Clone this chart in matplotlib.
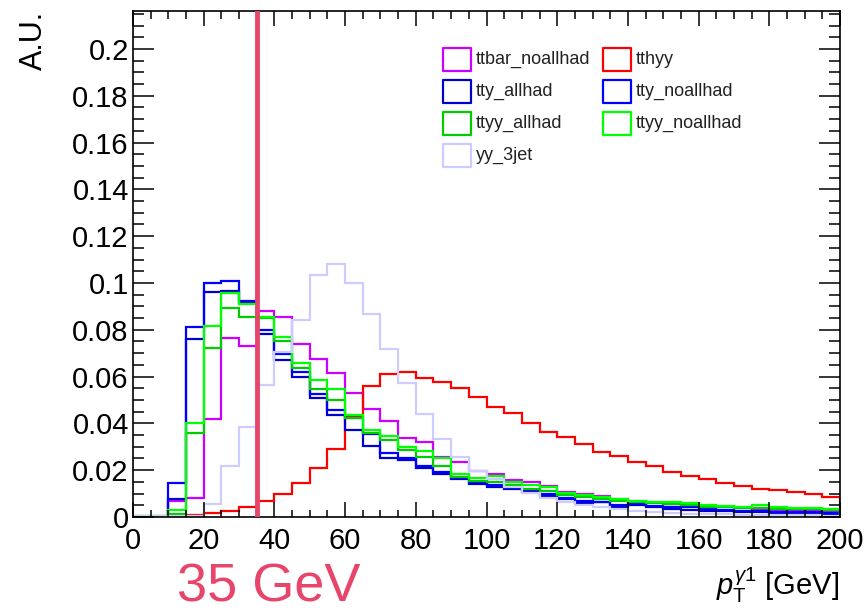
import numpy as np
import matplotlib
matplotlib.use("Agg")
import matplotlib.pyplot as plt
from matplotlib.patches import Rectangle
from matplotlib.ticker import MultipleLocator, FuncFormatter

plt.rcParams["font.family"] = ["Liberation Sans", "DejaVu Sans"]
plt.rcParams["mathtext.fontset"] = "custom"
plt.rcParams["mathtext.rm"] = "Liberation Sans"
plt.rcParams["mathtext.it"] = "Liberation Sans:italic"

# pT of leading photon, 5 GeV bins from 0 to 200
bin_edges = np.arange(0, 205, 5)

ttbar_noallhad = [0, 0, 0.007, 0.008, 0.042, 0.0766, 0.073, 0.088, 0.0856, 0.0738,
                  0.0674, 0.0617, 0.0531, 0.046, 0.0412, 0.0336, 0.0319, 0.0258, 0.0236, 0.0198,
                  0.0182, 0.0158, 0.0148, 0.0134, 0.0108, 0.0098, 0.009, 0.0075, 0.007, 0.0063,
                  0.0056, 0.0051, 0.0046, 0.0042, 0.0038, 0.0034, 0.0031, 0.0028, 0.0025, 0.0023]
tthyy = [0, 0, 0.001, 0.001, 0.0016, 0.0027, 0.0044, 0.007, 0.010, 0.0144,
         0.0208, 0.029, 0.0429, 0.056, 0.061, 0.062, 0.0593, 0.0578, 0.0553, 0.0514,
         0.0472, 0.0443, 0.040, 0.0362, 0.034, 0.0312, 0.0279, 0.0262, 0.0236, 0.0218,
         0.0194, 0.0177, 0.0162, 0.0147, 0.0134, 0.0121, 0.0115, 0.0105, 0.0097, 0.0085]
tty_allhad = [0, 0, 0.0075, 0.076, 0.0963, 0.0966, 0.0913, 0.078, 0.0671, 0.060,
              0.051, 0.0436, 0.0372, 0.0303, 0.0251, 0.0244, 0.0208, 0.0182, 0.0161, 0.0141,
              0.0127, 0.012, 0.0105, 0.009, 0.0075, 0.0058, 0.0063, 0.0044, 0.0051, 0.0044,
              0.0033, 0.003, 0.0027, 0.0026, 0.0023, 0.002, 0.0019, 0.0017, 0.0016, 0.0014]
tty_noallhad = [0, 0, 0.0147, 0.081, 0.0999, 0.1008, 0.0923, 0.080, 0.0695, 0.0621,
                0.0524, 0.0457, 0.0422, 0.0355, 0.0272, 0.0251, 0.0218, 0.0194, 0.0168, 0.0148,
                0.0137, 0.0127, 0.0115, 0.0097, 0.008, 0.007, 0.0066, 0.0051, 0.0056, 0.0048,
                0.0041, 0.0041, 0.0033, 0.003, 0.0027, 0.0026, 0.0023, 0.0021, 0.002, 0.0019]
ttyy_allhad = [0.0003, 0.0003, 0.0013, 0.036, 0.072, 0.0892, 0.0856, 0.0849, 0.0754, 0.0635,
               0.0546, 0.050, 0.0425, 0.0358, 0.0329, 0.0286, 0.0258, 0.0218, 0.0172, 0.0155,
               0.0151, 0.0137, 0.012, 0.0113, 0.0094, 0.0087, 0.0078, 0.007, 0.0063, 0.0058,
               0.0056, 0.0051, 0.0044, 0.0041, 0.004, 0.0037, 0.0036, 0.0034, 0.0034, 0.003]
ttyy_noallhad = [0.0003, 0.0003, 0.003, 0.040, 0.0818, 0.0959, 0.091, 0.0856, 0.0771, 0.0657,
                 0.0585, 0.0546, 0.0436, 0.0372, 0.0346, 0.0301, 0.0282, 0.0251, 0.0184, 0.0165,
                 0.0175, 0.0148, 0.0137, 0.0127, 0.0101, 0.0094, 0.0084, 0.0075, 0.007, 0.0066,
                 0.0066, 0.0058, 0.0051, 0.0047, 0.0044, 0.0051, 0.0041, 0.004, 0.0038, 0.0034]
yy_3jet = [0.0003, 0.0003, 0.0006, 0.0006, 0.0056, 0.022, 0.0386, 0.0566, 0.0707, 0.0842,
           0.1034, 0.1081, 0.1001, 0.0866, 0.0717, 0.0572, 0.0438, 0.0333, 0.0258, 0.0198,
           0.0161, 0.0127, 0.0104, 0.008, 0.0066, 0.0051, 0.0041, 0.0033, 0.0026, 0.0021,
           0.0017, 0.0014, 0.0012, 0.0011, 0.001, 0.0009, 0.0008, 0.0007, 0.0007, 0.0006]

samples = [
    ("ttbar_noallhad", ttbar_noallhad, "#cc00ff"),
    ("tthyy", tthyy, "#ff0000"),
    ("tty_allhad", tty_allhad, "#0000cc"),
    ("tty_noallhad", tty_noallhad, "#0000ff"),
    ("ttyy_allhad", ttyy_allhad, "#00cc00"),
    ("ttyy_noallhad", ttyy_noallhad, "#00ff00"),
    ("yy_3jet", yy_3jet, "#ccccff"),
]
cut_value = 35
cut_color = "#e8456b"

W, H = 868, 613
fig = plt.figure(figsize=(W / 100, H / 100), dpi=100)
ax = fig.add_axes([133 / W, (H - 517) / H, (840 - 133) / W, (517 - 11) / H])

for name, vals, color in samples:
    ax.stairs(vals, bin_edges, color=color, lw=1.6)

ax.axvline(cut_value, color=cut_color, lw=3.5, zorder=5)

ax.set_xlim(0, 200)
ax.set_ylim(0, 0.2162)
ax.xaxis.set_major_locator(MultipleLocator(20))
ax.xaxis.set_minor_locator(MultipleLocator(5))
ax.yaxis.set_major_locator(MultipleLocator(0.02))
ax.yaxis.set_minor_locator(MultipleLocator(0.005))
ax.yaxis.set_major_formatter(FuncFormatter(lambda v, p: f"{v:.2f}".rstrip("0").rstrip(".") if v else "0"))
ax.tick_params(axis="both", which="both", direction="in", top=True, right=True,
               width=1.1, labelsize=21)
ax.tick_params(axis="x", which="major", length=10.8, pad=7)
ax.tick_params(axis="x", which="minor", length=5.4)
ax.tick_params(axis="y", which="major", length=15, pad=3)
ax.tick_params(axis="y", which="minor", length=7.6)
for sp in ax.spines.values():
    sp.set_linewidth(1.2)

# legend in two columns, drawn by hand like the ROOT TLegend
def fpos(x, y):
    return x / W, 1 - y / H

col_x = [443, 603]
row_y = [59, 91, 123.5, 155.5]
legend_order = [0, 2, 4, 6, 1, 3, 5]
for k, idx in enumerate(legend_order):
    name, _, color = samples[idx]
    col, row = (0, k) if k < 4 else (1, k - 4)
    bx, by = col_x[col], row_y[row]
    x0, y0 = fpos(bx, by + 11.5)
    fig.patches.append(Rectangle((x0, y0), 28 / W, 23 / H, transform=fig.transFigure,
                                 fill=False, edgecolor=color, lw=1.6, joinstyle="round"))
    tx, ty = fpos(bx + 33, by)
    fig.text(tx, ty, name, fontsize=13, ha="left", va="center", color="#222222")

fig.text(33.5 / W, 1 - 11 / H, "A.U.", rotation=90, ha="center", va="top", fontsize=22)
fig.text(839 / W, (H - 595) / H, r"$p_{\mathrm{T}}^{\gamma 1}$ [GeV]", ha="right",
         va="baseline", fontsize=21)
fig.text(177 / W, 1 / H, f"{cut_value} GeV", ha="left", va="bottom",
         fontsize=39, color=cut_color)

fig.savefig("out.png", dpi=100)
